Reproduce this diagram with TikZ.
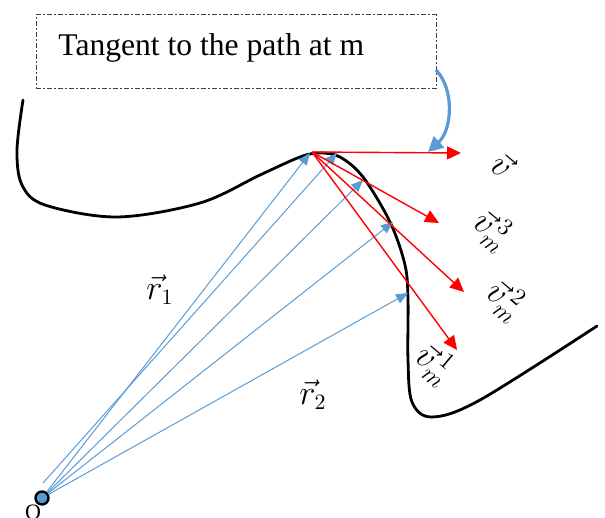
\documentclass[tikz,border=0pt]{standalone}
\usepackage{fontspec}
\setmainfont{Liberation Serif}
\usepackage{amsmath}
\usetikzlibrary{arrows.meta, positioning}

\definecolor{vecblue}{RGB}{91,155,213}

\begin{document}
\begin{tikzpicture}[x=0.5pt, y=-0.5pt,
    posvec/.style={-{Triangle[length=6pt,width=5pt]}, draw=vecblue, line width=0.5pt},
    velvec/.style={-{Triangle[length=7pt,width=6.5pt]}, draw=red, line width=0.7pt},
    vlabel/.style={font=\fontsize{17}{20}\selectfont, rotate=-40},
    pathline/.style={line width=1.4pt, line cap=round}]
    \useasboundingbox (0,0) rectangle (605,518);

    % Tangent label
    \node[draw=black!75, line width=0.5pt, dash pattern=on 2.5pt off 1.2pt on 0.6pt off 1.2pt,
          minimum width=200pt, minimum height=37pt, inner sep=0] (box) at (236,52) {};
    \node[anchor=base west, inner sep=0, font=\fontsize{15.8}{19}\selectfont] (boxtext) at (58,56) {Tangent to the path at m};

    % Path
    \draw[pathline] plot[smooth, tension=0.55] coordinates {(23,100) (17,150) (22,185) (45,205) (117,217)
        (200,203) (260,175) (300,157) (320,153) (340,157) (363,177) (390,222) (405,265)
        (408,300) (408,360) (412,402) (432,417) (480,400) (597,326)};

    % Points
    \coordinate (m) at (312,152);
    \coordinate (p1) at (310,153);
    \coordinate (p2) at (337,153);
    \coordinate (p3) at (363,180);
    \coordinate (p4) at (393,222);
    \coordinate (p5) at (408,293);
    \coordinate (o1) at (43,483);
    \coordinate (t1) at (436,70);
    \coordinate (t2) at (428,152);

    % Origin
    \node[circle, draw, line width=1.2pt, fill=vecblue, minimum size=6.5pt, inner sep=0] (O) at (42,498) {};
    \node[anchor=north, inner sep=0, font=\fontsize{11}{13}\selectfont] (Olabel) at (33,505) {O};

    % Position vectors
    \path (O) edge[posvec] (p1)
          (o1) edge[posvec] (p2)
          (O) edge[posvec] (p3)
          (O) edge[posvec] (p4)
          (O) edge[posvec] (p5);
    \node[font=\fontsize{16}{19}\selectfont] (r1) at (160,290) {$\vec{r}_1$};
    \node[font=\fontsize{16}{19}\selectfont] (r2) at (313,395) {$\vec{r}_2$};

    % Velocity vectors
    \coordinate (v0) at (461,153);
    \coordinate (v3) at (439,223);
    \coordinate (v2) at (464,292);
    \coordinate (v1) at (457,350);
    \path (m) edge[velvec] (v0)
          (m) edge[velvec] (v3)
          (m) edge[velvec] (v2)
          (m) edge[velvec] (v1);
    \node[vlabel] (lv0) at (503,165) {$\vec{v}$};
    \node[vlabel] (lv3) at (492,230) {${\vec{v}}_m^{\,3}$};
    \node[vlabel] (lv2) at (505,300) {${\vec{v}}_m^{\,2}$};
    \node[vlabel] (lv1) at (434,364) {${\vec{v}}_m^{\,1}$};

    % Pointer to the tangent
    \draw[-{Triangle[length=7.5pt,width=7.5pt]}, draw=vecblue, line width=1.6pt]
        (t1) .. controls (455,90) and (452,130) .. (t2);
\end{tikzpicture}
\end{document}
